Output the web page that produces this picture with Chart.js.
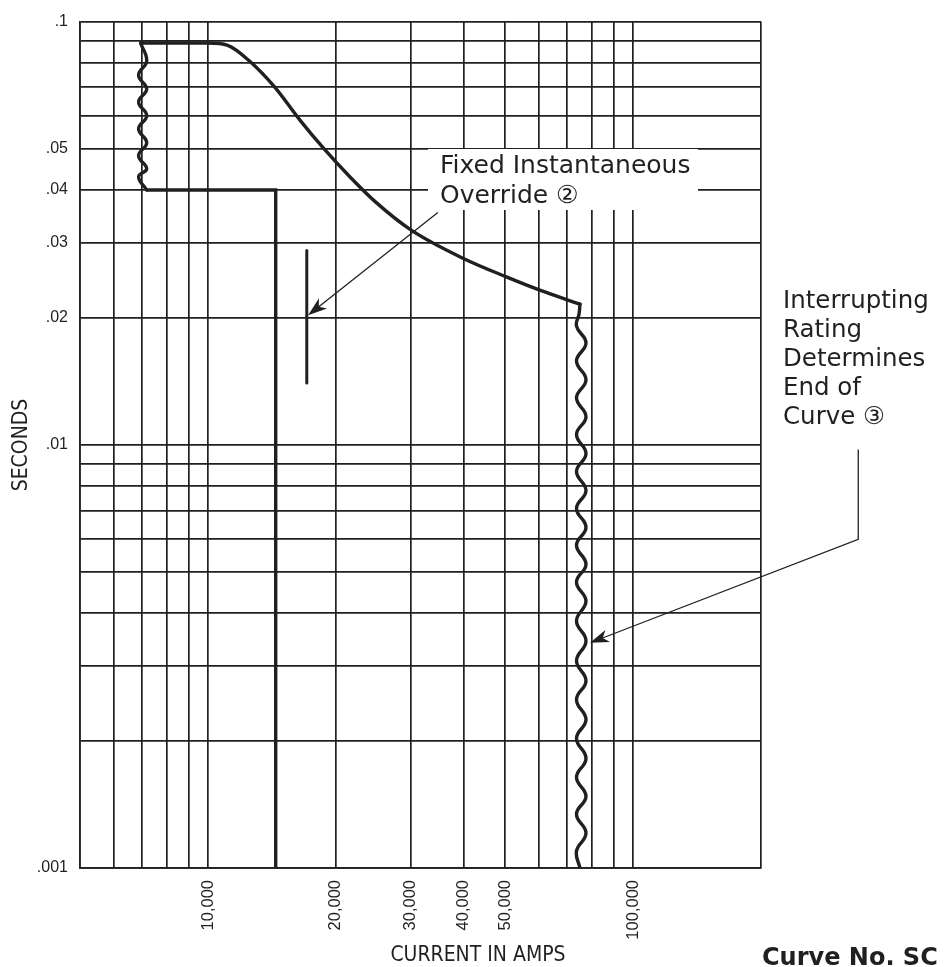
<!DOCTYPE html>
<html><head><meta charset="utf-8">
<script src="https://cdn.jsdelivr.net/npm/chart.js@4.4.1/dist/chart.umd.min.js"></script>
<style>html,body{margin:0;padding:0;background:#fff;}#wrap{width:945px;height:967px;position:relative;}</style>
</head><body><div id="wrap"><canvas id="c" width="945" height="967"></canvas></div>
<script>
// ---- axis ticks ----
const xGridValues = [5000,6000,7000,8000,9000,10000,20000,30000,40000,50000,60000,70000,80000,90000,100000,200000];
const xLabelValues = [10000,20000,30000,40000,50000,100000];
const xLabelTexts = ['10,000','20,000','30,000','40,000','50,000','100,000'];
const yGridValues = [0.001,0.002,0.003,0.004,0.005,0.006,0.007,0.008,0.009,0.01,0.02,0.03,0.04,0.05,0.06,0.07,0.08,0.09,0.1];
const yLabelValues = [0.1,0.05,0.04,0.03,0.02,0.01,0.001];
const yLabelTexts = ['.1','.05','.04','.03','.02','.01','.001'];

// ---- series (amps, seconds) ----
const leftWaveAmps = [6944,7175,6868,7175,6868,7175,6868,7175,6868,7175,6868,7175];
const leftWaveSeconds = [0.089,0.0806,0.0747,0.0693,0.0646,0.0599,0.0558,0.0517,0.0482,0.0449,0.0430,0.04];

const curveAmps = [6944,10000,11128,12540,14360,16440,18830,21560,24700,30010,39790,50500,60350,75020];
const curveSeconds = [0.089,0.089,0.0879,0.0806,0.0700,0.0586,0.0498,0.0430,0.0376,0.0322,0.0276,0.0249,0.0232,0.0215];

const rightWaveAmps = [75020,74630,73620,77500,73620,77500,73620,77500,73620,77500,73620,77500,73620,77500,73620,77500,73620,77500,73620,77500,73620,77500,73620,77500,73620,77500,73620,77500,73620,77500,73620,75020];
const rightWaveSeconds = [0.02149,0.02036,0.01908,0.01739,0.01578,0.01424,0.01291,0.01165,0.01057,0.009532,0.008646,0.007798,0.007074,0.006383,0.005789,0.005222,0.004737,0.004273,0.003834,0.003441,0.003088,0.002770,0.002499,0.002243,0.002023,0.001815,0.001638,0.001477,0.001340,0.001209,0.001096,0.001];

const stepAmps = [7175,14434,14434];
const stepSeconds = [0.04,0.04,0.001];

const overrideAmps = [17080,17080];
const overrideSeconds = [0.0288,0.014];

// ---- annotation arrows (amps, seconds) ----
const arrow1Path = [[34740,0.03538],[17200,0.02024]];
const arrow2Path = [[338700,0.009741],[338700,0.00598],[79200,0.003404]];

const INK = '#231f20';
const pts = (xs, ys) => xs.map((v,i)=>({x:v, y:ys[i]}));

function head(ctx, fx, fy, tx, ty, len, half){
  const a = Math.atan2(ty-fy, tx-fx), c = Math.cos(a), s = Math.sin(a);
  ctx.beginPath();
  ctx.moveTo(tx,ty);
  ctx.lineTo(tx - len*c + half*s, ty - len*s - half*c);
  ctx.lineTo(tx - len*0.72*c, ty - len*0.72*s);
  ctx.lineTo(tx - len*c - half*s, ty - len*s + half*c);
  ctx.closePath(); ctx.fill();
}
function drawArrow(chart, path){
  const {ctx, scales:{x,y}} = chart;
  const p = path.map(q=>[x.getPixelForValue(q[0]), y.getPixelForValue(q[1])]);
  ctx.save();
  ctx.strokeStyle = INK; ctx.fillStyle = INK; ctx.lineWidth = 1.3;
  ctx.beginPath(); ctx.moveTo(p[0][0],p[0][1]);
  for(let i=1;i<p.length;i++){
    if(i===p.length-1){
      const f=p[i-1], t=p[i], a=Math.atan2(t[1]-f[1], t[0]-f[0]);
      ctx.lineTo(t[0]-10*Math.cos(a), t[1]-10*Math.sin(a));
    } else ctx.lineTo(p[i][0],p[i][1]);
  }
  ctx.stroke();
  const f=p[p.length-2], t=p[p.length-1];
  head(ctx, f[0],f[1],t[0],t[1],19,6.5);
  ctx.restore();
}

const annot = {
  id:'annot',
  beforeDatasetsDraw(chart){
    const ctx = chart.ctx;
    ctx.save(); ctx.fillStyle='#fff'; ctx.fillRect(428,149,270,61); ctx.restore();
  },
  afterDatasetsDraw(chart){
    const ctx = chart.ctx;
    ctx.save();
    ctx.fillStyle = INK; ctx.textAlign='left'; ctx.textBaseline='alphabetic';
    ctx.font = '25px "DejaVu Sans"';
    ctx.fillText('Fixed Instantaneous', 440, 173);
    ctx.fillText('Override \u2461', 440, 203);
    ctx.font = '24.5px "DejaVu Sans"';
    const lines = ['Interrupting','Rating','Determines','End of','Curve \u2462'];
    lines.forEach((t,i)=>ctx.fillText(t, 783, 308 + i*29));
    // axis titles
    ctx.font = '21px "Liberation Sans Narrow", "DejaVu Sans Condensed", "Liberation Sans"';
    ctx.textAlign='center'; ctx.textBaseline='middle';
    ctx.fillText('CURRENT IN AMPS', 478, 956);
    ctx.save(); ctx.translate(22,445); ctx.rotate(-Math.PI/2); ctx.fillText('SECONDS',0,0); ctx.restore();
    ctx.font = 'bold 24px "DejaVu Sans"'; ctx.textAlign='left'; ctx.textBaseline='alphabetic';
    ctx.fillText('Curve No. SC', 762, 965);
    ctx.restore();
    drawArrow(chart, arrow1Path);
    drawArrow(chart, arrow2Path);
  }
};

const lineDs = (xs, ys, extra) => Object.assign({
  data: pts(xs, ys), showLine:true, borderColor:INK, borderWidth:3.4, pointRadius:0,
  fill:false, borderCapStyle:'round', borderJoinStyle:'round'
}, extra||{});

new Chart(document.getElementById('c'), {
  type:'scatter',
  data:{ datasets:[
    lineDs(leftWaveAmps, leftWaveSeconds, {tension:0.45}),
    lineDs(curveAmps, curveSeconds, {cubicInterpolationMode:'monotone'}),
    lineDs(rightWaveAmps, rightWaveSeconds, {tension:0.45}),
    lineDs(stepAmps, stepSeconds, {tension:0, borderJoinStyle:'miter', borderCapStyle:'butt'}),
    lineDs(overrideAmps, overrideSeconds, {tension:0, borderCapStyle:'butt', borderWidth:3})
  ]},
  options:{
    responsive:false, animation:false, devicePixelRatio:1,
    layout:{padding:{left:0, right:184, top:18, bottom:0}},
    plugins:{legend:{display:false}, tooltip:{enabled:false}},
    scales:{
      x:{
        type:'logarithmic', min:5000, max:200000,
        afterBuildTicks(s){ s.ticks = xGridValues.map(v=>({value:v})); },
        afterFit(s){ s.height = 99; },
        ticks:{autoSkip:false, minRotation:90, maxRotation:90, padding:12, color:INK,
          font:{family:'"Liberation Sans", Arial, sans-serif', size:16.5},
          callback(v){ const i = xLabelValues.indexOf(v); return i>=0 ? xLabelTexts[i] : ''; }},
        grid:{color:INK, lineWidth:1.7, drawTicks:false},
        border:{color:INK, width:1.7}
      },
      y:{
        type:'logarithmic', min:0.001, max:0.1,
        afterBuildTicks(s){ s.ticks = yGridValues.map(v=>({value:v})); },
        afterFit(s){ s.width = 80; },
        ticks:{autoSkip:false, padding:12, color:INK,
          font:{family:'"Liberation Sans", Arial, sans-serif', size:16},
          callback(v){ const i = yLabelValues.indexOf(v); return i>=0 ? yLabelTexts[i] : ''; }},
        grid:{color:INK, lineWidth:1.7, drawTicks:false},
        border:{color:INK, width:1.7}
      }
    }
  },
  plugins:[annot]
});
</script></body></html>
